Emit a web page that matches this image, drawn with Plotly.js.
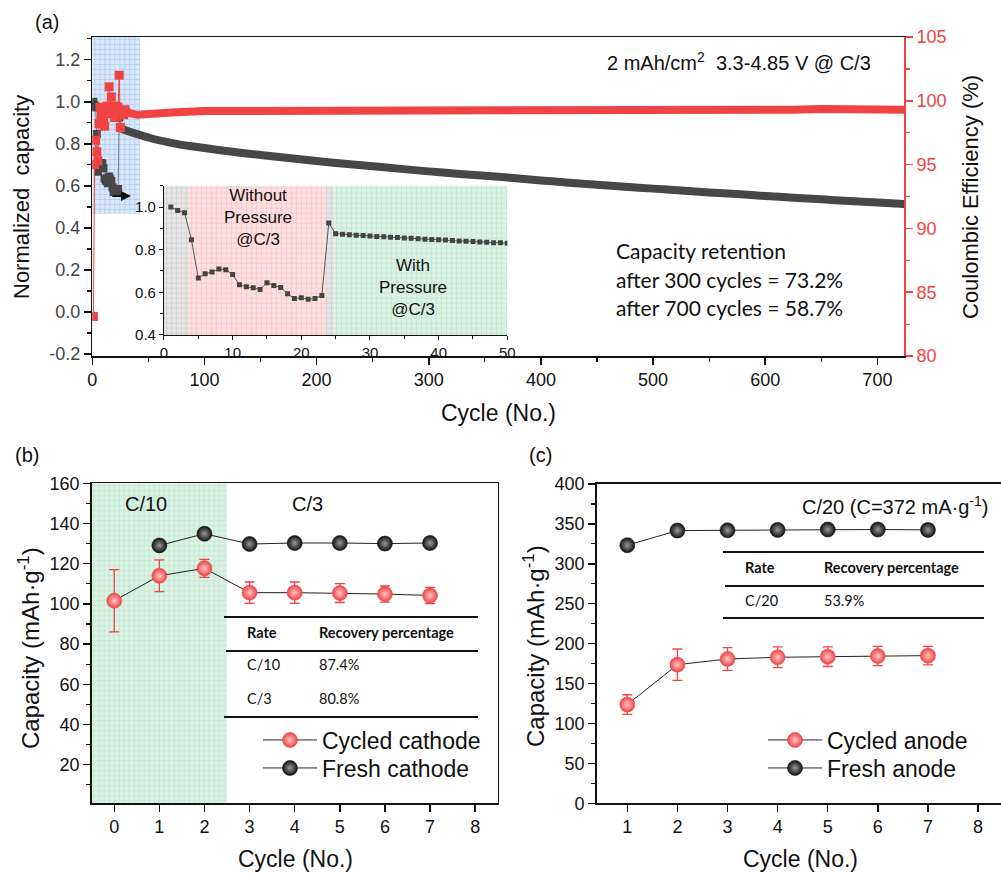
<!DOCTYPE html>
<html><head><meta charset="utf-8">
<script src="https://cdn.plot.ly/plotly-3.0.1.min.js"></script>
<style>body{margin:0;background:#fff}#plot{width:1001px;height:873px}</style>
</head><body><div id="plot"></div>
<script>
// ---------- Panel (a) data ----------
const earlyCycles = [1,2,3,4,5,6,7,8,9,10,11,12,13,14,15,16,17,18,19,20,21,22,23,24,25,
  26,27,28,29,30,31,32,33,34,35,36,37,38,39,40,41,42,43,44,45,46,47,48,49,50];
const earlyCap = [1.000,0.984,0.973,0.847,0.667,0.687,0.695,0.709,0.706,0.684,0.635,0.626,0.621,0.613,0.645,
  0.632,0.623,0.593,0.571,0.574,0.567,0.571,0.585,0.925,0.875,0.872,0.870,0.868,0.866,0.864,0.862,0.860,
  0.858,0.857,0.855,0.853,0.851,0.849,0.848,0.846,0.845,0.843,0.841,0.840,0.838,0.836,0.835,0.833,0.832,0.830];
const tailCycles = [75,100,125,150,175,200,225,250,275,300,325,350,375,400,425,450,475,500,525,550,575,600,625,650,675,700,724];
const tailCap = [0.800,0.780,0.762,0.747,0.733,0.718,0.705,0.693,0.681,0.669,0.658,0.648,0.638,0.626,0.615,0.605,
  0.596,0.587,0.578,0.569,0.561,0.552,0.544,0.536,0.528,0.521,0.514];
const ceEarlyCycles = [1,2,3,4,5,6,7,8,9,10,11,12,13,14,15,16,17,18,19,20,21,22,23,24,25,26,27,28,29,30];
const ceEarly = [83.1,95.0,96.9,96.0,95.3,98.2,99.5,98.9,99.2,98.6,98.0,99.1,99.6,99.0,101.1,99.3,100.3,99.0,
  99.4,98.7,99.6,99.1,99.5,102.0,97.9,99.0,99.2,98.9,99.3,99.1];
const ceTailCycles = [40,50,75,100,125,150,175,200,225,250,275,300,325,350,375,400,425,450,475,500,525,550,575,600,625,650,675,700,724];
const ceTail = [98.9,99.0,99.1,99.2,99.2,99.25,99.25,99.3,99.3,99.3,99.3,99.3,99.3,99.3,99.3,99.3,99.32,99.33,
  99.3,99.33,99.3,99.33,99.35,99.33,99.3,99.36,99.33,99.3,99.3];
const capTickVals = [-0.2,0,0.2,0.4,0.6,0.8,1.0,1.2];
const capTickText = ['-0.2','0.0','0.2','0.4','0.6','0.8','1.0','1.2'];

// ---------- Panel (b) data ----------
const cathodeCycles = [0,1,2,3,4,5,6,7];
const cycledCathode = [101.6,114.0,117.7,105.6,105.6,105.4,104.9,104.2];
const cycledCathodeErr = [15.5,7.9,4.5,5.3,5.3,4.7,4.0,4.0];
const freshCathodeCycles = [1,2,3,4,5,6,7];
const freshCathode = [129.1,134.9,129.8,130.3,130.3,130.0,130.3];
const cathodeTable = [["Rate","Recovery percentage"],["C/10","87.4%"],["C/3","80.8%"]];

// ---------- Panel (c) data ----------
const anodeCycles = [1,2,3,4,5,6,7];
const cycledAnode = [123.7,173.7,180.8,182.9,183.7,184.5,185.0];
const cycledAnodeErr = [12.3,19.6,14.3,13.0,12.3,12.0,11.5];
const freshAnode = [323.3,341.6,342.0,342.5,343.0,343.0,342.5];
const anodeTable = [["Rate","Recovery percentage"],["C/20","53.9%"]];

// ---------- helpers ----------
const px = x => x/1001, py = y => 1 - y/873;
const ARIAL = 'Liberation Sans, Arial, sans-serif';
const CAL = 'Lato, Open Sans, sans-serif';
const RED = '#f04444', DARK = '#474747';

function shade(xa, ya, x0, x1, y0, y1, bg, fg){
  return {type:'bar', xaxis:xa, yaxis:ya, x:[(x0+x1)/2], width:[x1-x0], base:[y0], y:[y1-y0],
    marker:{color:bg, line:{width:0}, pattern:{shape:'+', fgcolor:fg, bgcolor:bg, size:5, solidity:0.3, fillmode:'replace'}},
    showlegend:false, hoverinfo:'skip'};
}
const ball = (c, hi) => ({symbol:'circle', size:15, color:c, gradient:{type:'radial', color:hi}, line:{width:0.6, color:c}});

const traces = [];
// (a) main
traces.push(shade('x','y',0,42.5,0.466,1.308,'#d8e7f9','#b4cdef'));
traces.push({x: earlyCycles.slice(24).concat(tailCycles), y: earlyCap.slice(24).concat(tailCap),
  xaxis:'x', yaxis:'y', mode:'lines', line:{color:DARK, width:8, shape:'spline', smoothing:0.8}, showlegend:false});
traces.push({x: earlyCycles.slice(0,25), y: earlyCap.slice(0,25), xaxis:'x', yaxis:'y', mode:'lines+markers',
  line:{color:'#777', width:1}, marker:{symbol:'square', size:8, color:DARK}, showlegend:false});
traces.push({x: ceEarlyCycles.slice(25).concat(ceTailCycles), y: ceEarly.slice(25).concat(ceTail),
  xaxis:'x', yaxis:'y2', mode:'lines', line:{color:RED, width:8}, showlegend:false});
traces.push({x: ceEarlyCycles, y: ceEarly, xaxis:'x', yaxis:'y2', mode:'lines+markers',
  line:{color:RED, width:1}, marker:{symbol:'square', size:9, color:RED}, showlegend:false});
// inset
traces.push(shade('x3','y3',0,3.7,0.4,1.1,'#e6e6e6','#d0d0d0'));
traces.push(shade('x3','y3',3.7,23.6,0.4,1.1,'#fde1e1','#f7c9c9'));
traces.push(shade('x3','y3',23.6,24.8,0.4,1.1,'#e6e6e6','#d0d0d0'));
traces.push(shade('x3','y3',24.8,50,0.4,1.1,'#dcf3e6','#c2e6d0'));
traces.push({x: earlyCycles, y: earlyCap, xaxis:'x3', yaxis:'y3', mode:'lines+markers',
  line:{color:'#555', width:1}, marker:{symbol:'square', size:5, color:'#444'}, showlegend:false});
// (b)
traces.push(shade('x4','y4',-0.5,2.5,0.8,160,'#dcf3e6','#c2e6d0'));
traces.push({x: cathodeCycles, y: cycledCathode, xaxis:'x4', yaxis:'y4', mode:'lines+markers', name:'Cycled cathode',
  line:{color:'#222', width:1}, marker: ball(RED,'#ffc8c8'),
  error_y:{type:'data', array:cycledCathodeErr, visible:true, color:RED, thickness:1.3, width:5}, legend:'legend'});
traces.push({x: freshCathodeCycles, y: freshCathode, xaxis:'x4', yaxis:'y4', mode:'lines+markers', name:'Fresh cathode',
  line:{color:'#222', width:1}, marker: ball('#111','#9a9a9a'), legend:'legend2'});
// (c)
traces.push({x: anodeCycles, y: cycledAnode, xaxis:'x5', yaxis:'y5', mode:'lines+markers', name:'Cycled anode',
  line:{color:'#222', width:1}, marker: ball(RED,'#ffc8c8'),
  error_y:{type:'data', array:cycledAnodeErr, visible:true, color:RED, thickness:1.3, width:5}, legend:'legend3'});
traces.push({x: anodeCycles, y: freshAnode, xaxis:'x5', yaxis:'y5', mode:'lines+markers', name:'Fresh anode',
  line:{color:'#222', width:1}, marker: ball('#111','#9a9a9a'), legend:'legend4'});

const tf = (s,c) => ({family:ARIAL, size:s, color:c||'#111'});
const axBase = {showgrid:false, zeroline:false, showline:true, linecolor:'#111', linewidth:1.5,
  ticks:'outside', ticklen:7, tickwidth:1.5, tickcolor:'#111', tickfont:tf(18)};

const ann = [];
const A = (text, x, y, o) => ann.push(Object.assign({text, x:px(x), y:py(y), xref:'paper', yref:'paper',
  showarrow:false, font:tf(20), xanchor:'center', yanchor:'middle'}, o||{}));
A('(a)',47,22); A('(b)',27,455); A('(c)',540,455);
A('Normalized\u00a0 capacity',22,197,{textangle:-90, font:tf(22)});
A('Coulombic Efficiency (%)',971,197,{textangle:-90, font:tf(22)});
A('Cycle (No.)',498,413,{font:tf(23)});
A('2 mAh/cm<sup>2</sup>\u00a0 3.3-4.85 V @ C/3',873,62,{xanchor:'right', font:tf(20)});
const calF = {family:CAL, size:21, color:'#111'};
A('Capacity retention',614,251,{xanchor:'left', font:calF});
A('after 300 cycles = 73.2%',614,279,{xanchor:'left', font:calF});
A('after 700 cycles = 58.7%',614,307,{xanchor:'left', font:calF});
A('Without<br>Pressure<br>@C/3',258,217,{font:tf(17)});
A('With<br>Pressure<br>@C/3',413,288,{font:tf(17)});
ann.push({x:px(131), y:py(196), xref:'paper', yref:'paper', ax:-20, ay:0, text:'', showarrow:true,
  arrowhead:2, arrowsize:1, arrowwidth:2, arrowcolor:'#111'});
A('C/10',146,504); A('C/3',307,504);
A('Capacity (mAh·g<sup>-1</sup>)',29,648,{textangle:-90, font:tf(24)});
A('Cycle (No.)',295,859,{font:tf(23)});
A('Capacity (mAh·g<sup>-1</sup>)',534,646,{textangle:-90, font:tf(24)});
A('Cycle (No.)',800,859,{font:tf(23)});
A('C/20 (C=372 mA·g<sup>-1</sup>)',990,505,{xanchor:'right'});
// tables
const tcol = [245,317], trow = [632,664,698];
cathodeTable.forEach((r,i)=> r.forEach((t,j)=> A(i===0?'<b>'+t+'</b>':t, tcol[j], trow[i],
  {xanchor:'left', font:{family:CAL, size:14.5, color:'#111'}})));
const tcol2 = [743,822], trow2 = [567,600];
anodeTable.forEach((r,i)=> r.forEach((t,j)=> A(i===0?'<b>'+t+'</b>':t, tcol2[j], trow2[i],
  {xanchor:'left', font:{family:CAL, size:14.5, color:'#111'}})));

const L = (x0,x1,y,w) => ({type:'line', xref:'paper', yref:'paper', x0:px(x0), x1:px(x1), y0:py(y), y1:py(y), line:{color:'#111', width:w}});
const shapes = [L(224,478,617,2.2), L(226,478,651,2.2), L(224,478,717,2.2),
                L(723,984,552,2.2), L(725,984,586,2.2), L(723,984,618,2.2)];

const leg = (x,y) => ({x:px(x), y:py(y), xanchor:'left', yanchor:'middle', bgcolor:'rgba(0,0,0,0)', font:tf(23), itemwidth:54, tracegroupgap:0});

const layout = {
  width:1001, height:873, margin:{l:0,r:0,t:0,b:0}, paper_bgcolor:'#fff', plot_bgcolor:'rgba(0,0,0,0)',
  barmode:'overlay', hovermode:false, font:{family:ARIAL},
  xaxis: Object.assign({}, axBase, {domain:[0.0922,0.9034], anchor:'y', range:[0,724], dtick:100, tick0:0, mirror:true,
     minor:{dtick:50, ticks:'outside', ticklen:4, tickcolor:'#111', tickwidth:1.2}}),
  yaxis: Object.assign({}, axBase, {domain:[0.5922,0.9576], anchor:'x', range:[-0.209,1.308], tickmode:'array',
     tickvals:capTickVals, ticktext:capTickText, tickfont:tf(18,'#444'),
     minor:{dtick:0.1, tick0:0, ticks:'outside', ticklen:4, tickcolor:'#111', tickwidth:1.2}}),
  yaxis2: Object.assign({}, axBase, {overlaying:'y', side:'right', anchor:'x', range:[80,105], dtick:5, tick0:80,
     linecolor:RED, tickcolor:RED, tickfont:tf(18,RED), minor:{dtick:2.5, ticks:'outside', ticklen:4, tickcolor:RED, tickwidth:1.2}}),
  xaxis3: Object.assign({}, axBase, {domain:[0.1638,0.5068], anchor:'y3', range:[0,50], dtick:10, tick0:0, linewidth:1,
     ticklen:4, tickwidth:1, tickfont:tf(15), minor:{dtick:5, ticks:'outside', ticklen:3, tickcolor:'#111'}}),
  yaxis3: Object.assign({}, axBase, {domain:[0.6163,0.7873], anchor:'x3', range:[0.4,1.1], dtick:0.2, tick0:0.4,
     tickformat:'.1f', linewidth:1, ticklen:4, tickwidth:1, tickfont:tf(15), minor:{dtick:0.1, ticks:'outside', ticklen:3, tickcolor:'#111'}}),
  xaxis4: Object.assign({}, axBase, {domain:[0.0916,0.4972], anchor:'y4', range:[-0.5,8.5], dtick:1, tick0:0, mirror:true}),
  yaxis4: Object.assign({}, axBase, {domain:[0.0798,0.4464], anchor:'x4', range:[0.8,160], dtick:20, tick0:0, mirror:true,
     minor:{dtick:10, ticks:'outside', ticklen:4, tickcolor:'#111', tickwidth:1.2}}),
  xaxis5: Object.assign({}, axBase, {domain:[0.5961,1], anchor:'y5', range:[0.389,8.458], dtick:1, tick0:1, mirror:true}),
  yaxis5: Object.assign({}, axBase, {domain:[0.0798,0.4456], anchor:'x5', range:[0,400], dtick:50, tick0:0,
     minor:{dtick:25, ticks:'outside', ticklen:4, tickcolor:'#111', tickwidth:1.2}}),
  legend: leg(258,740), legend2: leg(258,768), legend3: leg(763,740), legend4: leg(763,768),
  annotations: ann, shapes: shapes
};
Plotly.newPlot('plot', traces, layout, {displayModeBar:false, staticPlot:true});
</script></body></html>
